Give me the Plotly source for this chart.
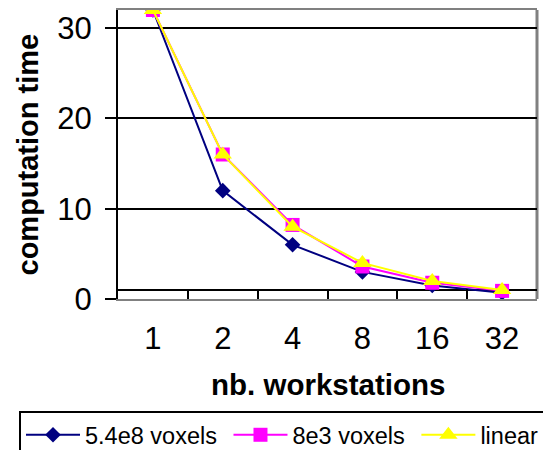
import plotly.graph_objects as go

workstations = ["1", "2", "4", "8", "16", "32"]
voxels_54e8 = [32, 12, 6, 3, 1.5, 0.7]
voxels_8e3 = [32, 16, 8.2, 3.6, 1.8, 0.9]
linear = [32, 16, 8, 4, 2, 1]
y_ticks = [0, 10, 20, 30]
series_names = ["5.4e8 voxels\u00a0", "8e3 voxels\u00a0", "linear"]

FONT = "Liberation Sans, Arial, sans-serif"

# page has an 8px body margin, so the figure is drawn 8px smaller/offset
W, H = 543, 442
L, R, T, B = 110, 14, 2, 151
PW, PH = W - L - R, H - T - B

fig = go.Figure()
fig.add_trace(go.Scatter(x=workstations, y=voxels_54e8, name=series_names[0],
                         mode="lines+markers", cliponaxis=False,
                         line=dict(color="#000080", width=2),
                         marker=dict(symbol="diamond", size=12, color="#000080")))
fig.add_trace(go.Scatter(x=workstations, y=voxels_8e3, name=series_names[1],
                         mode="lines+markers", cliponaxis=False,
                         line=dict(color="#FF00FF", width=2),
                         marker=dict(symbol="square", size=14, color="#FF00FF")))
fig.add_trace(go.Scatter(x=workstations, y=linear, name=series_names[2],
                         mode="lines+markers", cliponaxis=False,
                         line=dict(color="#FFFF00", width=2),
                         marker=dict(symbol="triangle-up", size=16, color="#FFFF00")))

fig.update_layout(
    width=W, height=H,
    margin=dict(l=L, r=R, t=T, b=B, autoexpand=False),
    paper_bgcolor="white", plot_bgcolor="white",
    font=dict(family=FONT, color="black"),
    showlegend=True,
    legend=dict(orientation="h", x=(11 - L) / PW, xanchor="left",
                y=(291 - 403) / PH, yanchor="top",
                bordercolor="black", borderwidth=2, bgcolor="white",
                font=dict(size=23.5, family=FONT), itemwidth=54,
                tracegroupgap=0),
    xaxis=dict(type="category", range=[-0.5, 5.5], tickson="boundaries",
               ticks="inside", ticklen=10, tickwidth=2, tickcolor="black",
               showline=True, linecolor="#808080", linewidth=2, mirror=True,
               showgrid=False, zeroline=False,
               tickfont=dict(size=31, family=FONT), ticklabelstandoff=11),
    yaxis=dict(range=[0, 32], tickvals=y_ticks, ticks="outside", ticklen=11,
               tickwidth=2, tickcolor="black",
               showline=True, linecolor="black", linewidth=2,
               showgrid=True, gridcolor="black", gridwidth=2, zeroline=False,
               tickfont=dict(size=31, family=FONT), ticklabelstandoff=7),
    annotations=[
        dict(text="<b>computation time</b>", xref="paper", yref="paper",
             x=(19 - L) / PW, y=0.5, xanchor="center", yanchor="middle",
             textangle=-90, showarrow=False, font=dict(size=29, family=FONT)),
        dict(text="<b>nb. workstations</b>", xref="paper", yref="paper",
             x=0.5, y=(291 - 376) / PH, xanchor="center", yanchor="middle",
             showarrow=False, font=dict(size=29.5, family=FONT)),
    ],
    shapes=[
        dict(type="line", xref="paper", yref="paper", x0=1, x1=1, y0=0, y1=1,
             line=dict(color="#808080", width=3), layer="below"),
        dict(type="line", xref="paper", yref="y", x0=0, x1=1, y0=1, y1=1,
             line=dict(color="black", width=2), layer="below"),
    ],
)

fig.write_html("out.html")
